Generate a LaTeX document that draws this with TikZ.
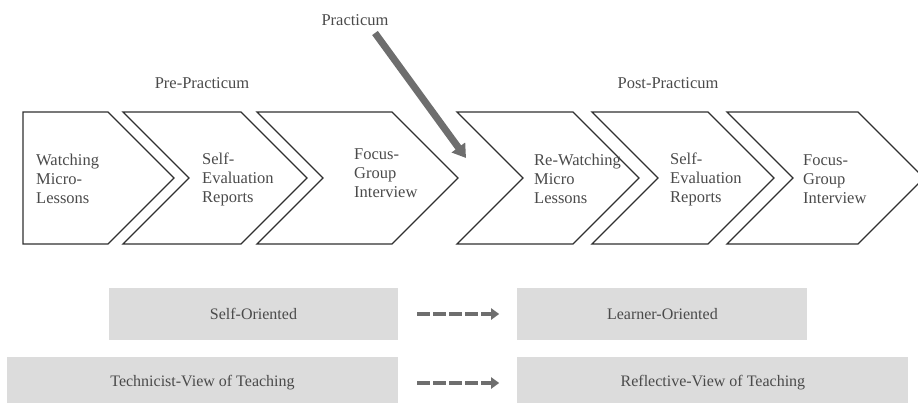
\documentclass[tikz,border=0pt]{standalone}
\usepackage{fontspec}
\setmainfont{Liberation Serif}
\usepackage{tikz}
\usetikzlibrary{positioning,arrows.meta,shapes.geometric}
\definecolor{txtgray}{HTML}{4A4A4A}
\definecolor{linegray}{HTML}{303030}
\definecolor{boxgray}{HTML}{DCDCDC}
\definecolor{arrowgray}{HTML}{6E6E6E}

\begin{document}
\begin{tikzpicture}[auto, x=1pt, y=-1pt]
    \tikzstyle{every node} = [font=\fontsize{16.5}{19}\selectfont, text=txtgray]
    \tikzstyle{chevron} = [draw=linegray, line width=1.3pt, line join=miter]
    \tikzstyle{stagetext} = [align=left, anchor=west, inner sep=0pt]
    \tikzstyle{phase} = [inner sep=0pt]
    \tikzstyle{greybox} = [fill=boxgray, minimum height=52pt, font=\fontsize{16}{19}\selectfont]
    \tikzstyle{bigarrow} = [draw=arrowgray, line width=7pt, -{Triangle[length=13pt,width=16pt]}]
    \tikzstyle{shiftarrow} = [draw=arrowgray, line width=4pt, dash pattern=on 12.5pt off 3.5pt, -{Triangle[length=8pt,width=11pt]}]

    \useasboundingbox (0,0) rectangle (918,402);

    % stages (left x, right x, notch)
    \foreach \xl/\xr/\nt in {23/108/0, 123/241/1, 257/392/1, 457/573/1, 592/708/1, 727/858/1}
        \draw[chevron] (\xl,112) -- (\xr,112) -- (\xr+66,178) -- (\xr,244) -- (\xl,244) -- (\xl+66*\nt,178) -- cycle;

    \node (watch) [stagetext] at (36,179) {Watching\\Micro-\\Lessons};
    \node (selfeval) [stagetext] at (202,179) {Self-\\Evaluation\\Reports};
    \node (focus) [stagetext] at (354,173) {Focus-\\Group\\Interview};
    \node (rewatch) [stagetext] at (534,179) {Re-Watching\\Micro\\Lessons};
    \node (selfevalpost) [stagetext] at (670,179) {Self-\\Evaluation\\Reports};
    \node (focuspost) [stagetext] at (803,179) {Focus-\\Group\\Interview};

    \node (pre) [phase] at (202,83) {Pre-Practicum};
    \node (post) [phase] at (668,83) {Post-Practicum};
    \node (practicum) [phase] at (355,20) {Practicum};

    \coordinate (pstart) at (375,33);
    \coordinate (pend) at (466,158);
    \draw[bigarrow] (pstart) -- (pend);

    % shift in views
    \node (selforient) [greybox, minimum width=289pt] at (253.5,314) {Self-Oriented};
    \node (learner) [greybox, minimum width=290pt, right=119pt of selforient] {Learner-Oriented};
    \node (technicist) [greybox, minimum width=391pt] at (202.5,383) {Technicist-View of Teaching};
    \node (reflective) [greybox, minimum width=391pt, right=119pt of technicist] {Reflective-View of Teaching};

    \draw[shiftarrow, shorten <=19pt, shorten >=18pt] (selforient) -- (learner);
    \draw[shiftarrow, shorten <=19pt, shorten >=18pt] (technicist) -- (reflective);
\end{tikzpicture}
\end{document}
